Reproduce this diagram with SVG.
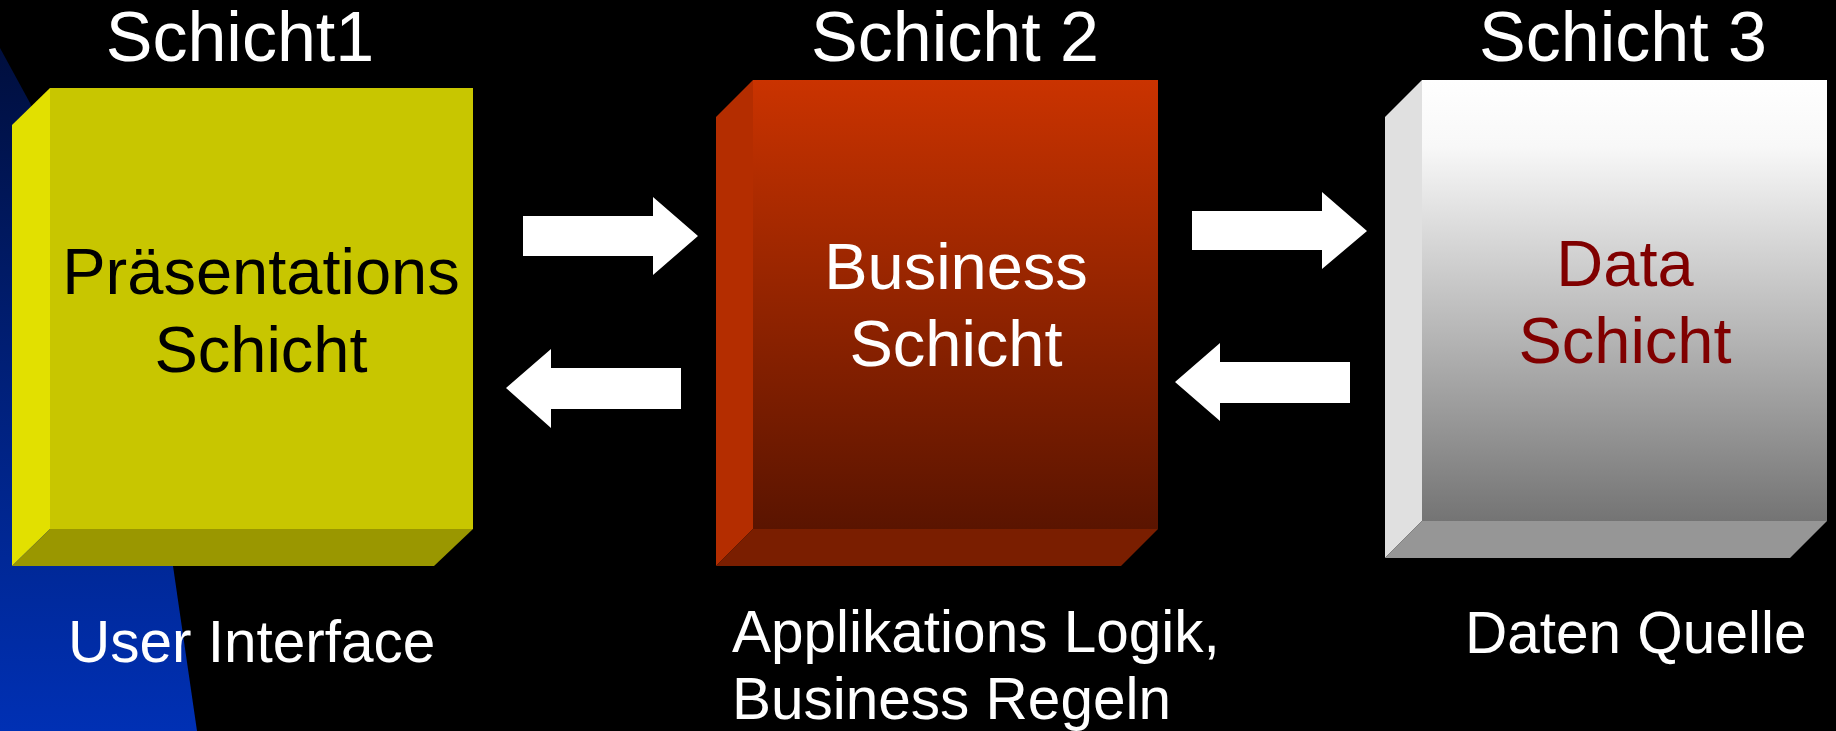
<svg xmlns="http://www.w3.org/2000/svg" width="1836" height="731" viewBox="0 0 1836 731">
<defs>
<linearGradient id="gBlue" x1="0" y1="40" x2="0" y2="731" gradientUnits="userSpaceOnUse">
<stop offset="0" stop-color="#000E3C"/>
<stop offset="0.5" stop-color="#00207A"/>
<stop offset="1" stop-color="#0030B4"/>
</linearGradient>
<linearGradient id="gRed" x1="0" y1="0" x2="0" y2="1">
<stop offset="0" stop-color="#CA3300"/>
<stop offset="1" stop-color="#5A1400"/>
</linearGradient>
<linearGradient id="gGray" x1="0" y1="0" x2="0" y2="1">
<stop offset="0" stop-color="#FFFFFF"/>
<stop offset="0.15" stop-color="#F8F8F8"/>
<stop offset="1" stop-color="#747474"/>
</linearGradient>
<style>
text{font-family:"Liberation Sans",Arial,sans-serif;}
.title{font-size:70px;fill:#FFFFFF;text-anchor:middle;}
.inner{font-size:65px;text-anchor:middle;}
.sub{font-size:58.5px;fill:#FFFFFF;}
.arrow{fill:#FFFFFF;}
</style>
</defs>
<rect x="0" y="0" width="1836" height="731" fill="#000000"/>
<path d="M0,48 L30,103 L150,420 L173,566 L197,731 L0,731 Z" fill="url(#gBlue)"/>

<g id="node1">
<rect x="50" y="88" width="423" height="441" fill="#C8C600"/>
<polygon points="12,125 50,88 50,529 12,566" fill="#E2E000"/>
<polygon points="12,566 50,529 473,529 434,566" fill="#9A9700"/>
<text class="title" x="240" y="61">Schicht1</text>
<text class="inner" x="261" y="294" fill="#000000">Präsentations</text>
<text class="inner" x="261" y="372" fill="#000000">Schicht</text>
<text class="sub" x="68" y="662">User Interface</text>
</g>

<g id="node2">
<rect x="753" y="80" width="405" height="449" fill="url(#gRed)"/>
<polygon points="716,117 753,80 753,529 716,566" fill="#B42D00"/>
<polygon points="716,566 753,529 1158,529 1121,566" fill="#7A1E00"/>
<text class="title" x="955" y="61">Schicht 2</text>
<text class="inner" x="956" y="289" fill="#FFFFFF">Business</text>
<text class="inner" x="956" y="366" fill="#FFFFFF">Schicht</text>
<text class="sub" x="732" y="652">Applikations Logik,</text>
<text class="sub" x="732" y="719">Business Regeln</text>
</g>

<g id="node3">
<rect x="1422" y="80" width="405" height="441" fill="url(#gGray)"/>
<polygon points="1385,117 1422,80 1422,521 1385,558" fill="#E0E0E0"/>
<polygon points="1385,558 1422,521 1827,521 1790,558" fill="#969696"/>
<text class="title" x="1623" y="61">Schicht 3</text>
<text class="inner" x="1625" y="286" fill="#800000">Data</text>
<text class="inner" x="1625" y="363" fill="#800000">Schicht</text>
<text class="sub" x="1465" y="653">Daten Quelle</text>
</g>

<g id="connectors">
<polygon class="arrow" points="523,216 653,216 653,197 698,236 653,275 653,256 523,256"/>
<polygon class="arrow" points="506,388 551,349 551,368 681,368 681,409 551,409 551,428"/>
<polygon class="arrow" points="1192,211 1322,211 1322,192 1367,231 1322,269 1322,250 1192,250"/>
<polygon class="arrow" points="1175,382 1220,343 1220,362 1350,362 1350,403 1220,403 1220,421"/>
</g>
</svg>
